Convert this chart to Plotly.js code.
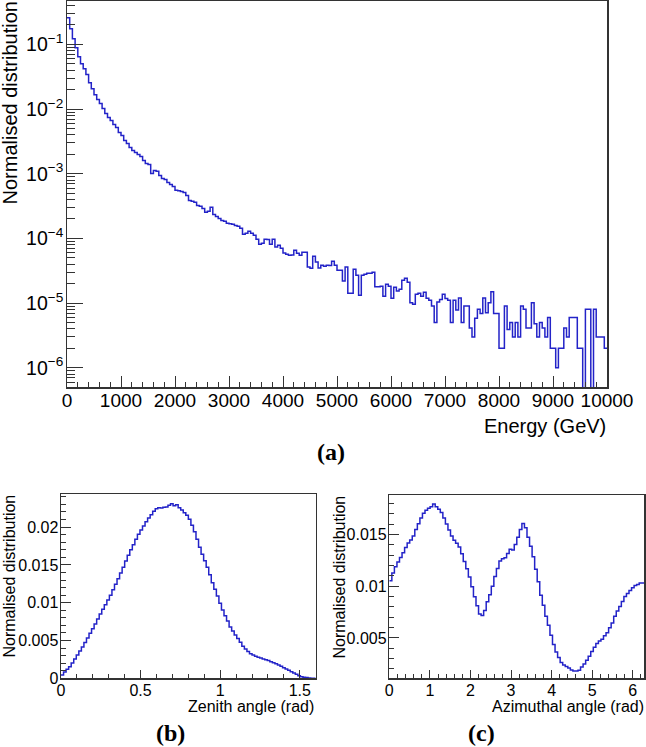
<!DOCTYPE html>
<html><head><meta charset="utf-8">
<script src="https://cdn.plot.ly/plotly-3.0.1.min.js"></script>
<style>html,body{margin:0;padding:0;background:#fff;} #chart{width:646px;height:747px;}</style>
</head><body><div id="chart"></div>
<script>
// ---- data ----
const energyRange = [0, 10000];            // GeV, 200 bins of 50 GeV
const energyValues = [
 0.258, 0.175, 0.1225, 0.0889, 0.0646, 0.0504, 0.0422, 0.0341, 0.0256, 0.0207,
 0.0167, 0.0140, 0.0122, 0.0102, 0.00852, 0.00739, 0.00665, 0.00577, 0.00518, 0.00434,
 0.00390, 0.00327, 0.00294, 0.00255, 0.00229, 0.00213, 0.00199, 0.00185, 0.00160, 0.00144,
 0.00139, 0.00101, 0.00112, 0.00109, 0.000941, 0.000846, 0.000817, 0.000734, 0.000684, 0.000637,
 0.000553, 0.000548, 0.000533, 0.000514, 0.000462, 0.000387, 0.000374, 0.000361, 0.000324, 0.000313,
 0.000291, 0.000253, 0.000262, 0.000302, 0.000235, 0.000219, 0.000204, 0.000190, 0.000184, 0.000171,
 0.000168, 0.000165, 0.000159, 0.000154, 0.000143, 0.000116, 0.000120, 0.000129, 0.000120, 0.000112,
 9.69e-5, 8.11e-5, 8.40e-5, 9.69e-5, 9.62e-5, 8.11e-5, 9.69e-5, 7.37e-5, 7.82e-5, 7.04e-5,
 5.95e-5, 5.68e-5, 5.48e-5, 5.52e-5, 6.55e-5, 5.89e-5, 5.48e-5, 6.10e-5, 6.10e-5, 3.62e-5,
 3.46e-5, 5.30e-5, 4.32e-5, 3.49e-5, 3.85e-5, 3.71e-5, 3.85e-5, 3.81e-5, 4.43e-5, 3.85e-5,
 3.22e-5, 3.22e-5, 2.20e-5, 3.62e-5, 1.42e-5, 1.42e-5, 3.34e-5, 2.70e-5, 1.32e-5, 2.70e-5,
 2.79e-5, 2.89e-5, 2.89e-5, 3.00e-5, 1.78e-5, 1.78e-5, 1.82e-5, 1.28e-5, 1.96e-5, 1.82e-5,
 1.19e-5, 1.76e-5, 1.53e-5, 1.64e-5, 2.26e-5, 2.42e-5, 2.10e-5, 1.01e-5, 9.6e-6, 1.37e-5,
 1.42e-5, 1.28e-5, 1.47e-5, 1.19e-5, 1.11e-5, 9.0e-6, 5.0e-6, 1.04e-5, 1.14e-5, 1.37e-5,
 1.18e-5, 1.11e-5, 5.0e-6, 1.11e-5, 7.8e-6, 1.20e-5, 5.0e-6, 9.0e-6, 9.0e-6, 4.1e-6,
 3.0e-6, 5.8e-6, 8.0e-6, 6.9e-6, 1.20e-5, 7.1e-6, 1.01e-5, 1.49e-5, 6.9e-6, 6.9e-6,
 2.0e-6, 2.0e-6, 9.0e-6, 3.9e-6, 5.0e-6, 3.0e-6, 5.0e-6, 3.0e-6, 9.0e-6, 8.0e-6,
 4.1e-6, 4.1e-6, 1.01e-5, 4.8e-6, 3.0e-6, 5.0e-6, 4.1e-6, 3.0e-6, 6.0e-6, 2.0e-6,
 2.0e-6, 1.0e-6, 2.0e-6, 2.0e-6, 4.1e-6, 3.0e-6, 6.0e-6, 6.0e-6, 6.0e-6, 2.0e-6,
 2.0e-6, 0, 8.0e-6, 8.0e-6, 0, 8.0e-6, 3.0e-6, 3.0e-6, 3.0e-6, 2.0e-6
];
const zenithRange = [0, 1.6];               // rad, 100 bins
const zenithValues = [
 0.00044, 0.00084, 0.00119, 0.00154, 0.00203, 0.00256, 0.00309, 0.00362, 0.00414, 0.00472,
 0.00533, 0.00595, 0.00657, 0.00719, 0.00785, 0.00851, 0.00913, 0.00974, 0.01036, 0.01098,
 0.01173, 0.01243, 0.01318, 0.01393, 0.01468, 0.01552, 0.01627, 0.01702, 0.01768, 0.01839,
 0.01905, 0.01962, 0.02015, 0.02072, 0.02121, 0.02165, 0.02209, 0.02244, 0.02257, 0.02253,
 0.02262, 0.02266, 0.02288, 0.02310, 0.02284, 0.02297, 0.02257, 0.02227, 0.02191, 0.02156,
 0.02103, 0.02024, 0.01940, 0.01839, 0.01733, 0.01640, 0.01556, 0.01468, 0.01371, 0.01265,
 0.01177, 0.01089, 0.00992, 0.00904, 0.00829, 0.00758, 0.00679, 0.00626, 0.00573, 0.00525,
 0.00476, 0.00423, 0.00388, 0.00353, 0.00326, 0.00309, 0.00291, 0.00278, 0.00269, 0.00256,
 0.00247, 0.00234, 0.00220, 0.00207, 0.00194, 0.00176, 0.00159, 0.00141, 0.00123, 0.00106,
 0.00088, 0.00071, 0.00053, 0.00035, 0.00022, 0.00013, 0.00009, 0.00004, 0, 0
];
const azimuthRange = [0, 2 * Math.PI];      // rad, 100 bins
const azimuthValues = [
 0.01052, 0.01126, 0.01187, 0.01232, 0.01277, 0.01322, 0.01374, 0.01416, 0.01445, 0.01484,
 0.01548, 0.01603, 0.01658, 0.01703, 0.01732, 0.01751, 0.01767, 0.01793, 0.01767, 0.01742,
 0.01712, 0.01658, 0.01600, 0.01542, 0.01484, 0.01442, 0.01413, 0.01377, 0.01313, 0.01239,
 0.01168, 0.01087, 0.00994, 0.00897, 0.00810, 0.00732, 0.00716, 0.00765, 0.00848, 0.00916,
 0.01000, 0.01093, 0.01171, 0.01242, 0.01264, 0.01274, 0.01316, 0.01355, 0.01348, 0.01403,
 0.01471, 0.01548, 0.01606, 0.01564, 0.01471, 0.01384, 0.01284, 0.01164, 0.01042, 0.00913,
 0.00816, 0.00710, 0.00623, 0.00526, 0.00436, 0.00365, 0.00310, 0.00262, 0.00239, 0.00223,
 0.00210, 0.00191, 0.00181, 0.00181, 0.00188, 0.00220, 0.00249, 0.00284, 0.00323, 0.00368,
 0.00410, 0.00445, 0.00471, 0.00487, 0.00520, 0.00549, 0.00597, 0.00645, 0.00710, 0.00761,
 0.00803, 0.00852, 0.00900, 0.00929, 0.00958, 0.00985, 0.01005, 0.01015, 0.01030, 0.01030
];
const yTitle = 'Normalised distribution';
const xTitles = ['Energy (GeV)', 'Zenith angle (rad)', 'Azimuthal angle (rad)'];
const panelLabels = ['(a)', '(b)', '(c)'];

// ---- drawing ----
const W = 646, H = 747;
const px = v => v / W, py = v => 1 - v / H;
const BLUE = '#2323c8', AX = '#333333';
const FONT = 'Liberation Sans, Arial, Helvetica, sans-serif';

function stepTrace(range, vals, xa, ya, floor) {
  const n = vals.length, w = (range[1] - range[0]) / n;
  const x = [], y = [];
  for (let i = 0; i < n; i++) {
    x.push(range[0] + i * w);
    y.push(floor !== undefined && vals[i] <= 0 ? floor : vals[i]);
  }
  x.push(range[1]); y.push(y[n - 1]);
  return {type: 'scatter', mode: 'lines', x: x, y: y, xaxis: xa, yaxis: ya,
          line: {shape: 'hv', color: BLUE, width: 1.5}, hoverinfo: 'skip'};
}

const traces = [
  stepTrace(energyRange, energyValues, 'x', 'y', 1e-10),
  stepTrace(zenithRange, zenithValues, 'x2', 'y2'),
  stepTrace(azimuthRange, azimuthValues, 'x3', 'y3')
];

function axis(extra) {
  return Object.assign({
    showline: true, linecolor: AX, linewidth: 1.5, mirror: true,
    showgrid: false, zeroline: false, ticks: 'inside', tickcolor: AX, tickwidth: 1,
    tickfont: {family: FONT, size: 16, color: '#000'}
  }, extra);
}

const layout = {
  width: W, height: H, margin: {l: 0, r: 0, t: 0, b: 0}, showlegend: false,
  paper_bgcolor: '#fff', plot_bgcolor: '#fff', font: {family: FONT, color: '#000'},
  xaxis: axis({domain: [px(67), px(607)], anchor: 'y', range: energyRange, tick0: 0, dtick: 1000,
    tickformat: 'd', ticklen: 11, ticklabelstandoff: -4, tickfont: {family: FONT, size: 19, color: '#000'},
    minor: {dtick: 200, ticks: 'inside', ticklen: 5, tickcolor: AX, showgrid: false}}),
  yaxis: axis({domain: [py(387), py(0.8)], anchor: 'x', type: 'log', range: [-6.298, -0.3256],
    dtick: 1, exponentformat: 'power', ticklen: 16, ticklabelstandoff: -1, tickfont: {family: FONT, size: 15.6, color: '#000'},
    minor: {dtick: 'D1', ticks: 'inside', ticklen: 8, tickcolor: AX, showgrid: false}}),
  xaxis2: axis({domain: [px(61), px(315.7)], anchor: 'y2', range: zenithRange, tick0: 0, dtick: 0.5,
    ticklen: 8, ticklabelstandoff: -3, minor: {dtick: 0.1, ticks: 'inside', ticklen: 4, tickcolor: AX, showgrid: false}}),
  yaxis2: axis({domain: [py(678.3), py(494.3)], anchor: 'x2', range: [0, 0.02434], tick0: 0, dtick: 0.005,
    ticklen: 10, ticklabelstandoff: -2, minor: {dtick: 0.001, ticks: 'inside', ticklen: 5, tickcolor: AX, showgrid: false}}),
  xaxis3: axis({domain: [px(389.3), px(644.3)], anchor: 'y3', range: azimuthRange, tick0: 0, dtick: 1,
    ticklen: 8, ticklabelstandoff: -3, minor: {dtick: 0.2, ticks: 'inside', ticklen: 4, tickcolor: AX, showgrid: false}}),
  yaxis3: axis({domain: [py(678.3), py(495)], anchor: 'x3', range: [0.0011, 0.0188], tick0: 0, dtick: 0.005,
    ticklen: 10, ticklabelstandoff: -2, minor: {dtick: 0.001, tick0: 0, ticks: 'inside', ticklen: 5, tickcolor: AX, showgrid: false}}),
  annotations: [
    {text: yTitle, textangle: -90, xref: 'paper', yref: 'paper', x: px(9), y: py(0), xanchor: 'center', yanchor: 'top', showarrow: false, font: {family: FONT, size: 20}},
    {text: xTitles[0], xref: 'paper', yref: 'paper', x: px(608), y: py(426), xanchor: 'right', yanchor: 'middle', showarrow: false, font: {family: FONT, size: 20}},
    {text: yTitle, textangle: -90, xref: 'paper', yref: 'paper', x: px(9), y: py(493), xanchor: 'center', yanchor: 'top', showarrow: false, font: {family: FONT, size: 16}},
    {text: xTitles[1], xref: 'paper', yref: 'paper', x: px(316), y: py(706), xanchor: 'right', yanchor: 'middle', showarrow: false, font: {family: FONT, size: 16}},
    {text: yTitle, textangle: -90, xref: 'paper', yref: 'paper', x: px(339), y: py(493), xanchor: 'center', yanchor: 'top', showarrow: false, font: {family: FONT, size: 16}},
    {text: xTitles[2], xref: 'paper', yref: 'paper', x: px(646), y: py(706), xanchor: 'right', yanchor: 'middle', showarrow: false, font: {family: FONT, size: 16}},
    {text: '<b>' + panelLabels[0] + '</b>', xref: 'paper', yref: 'paper', x: px(331), y: py(452), xanchor: 'center', yanchor: 'middle', showarrow: false, font: {family: 'Liberation Serif, Times New Roman, serif', size: 24}},
    {text: '<b>' + panelLabels[1] + '</b>', xref: 'paper', yref: 'paper', x: px(170), y: py(733), xanchor: 'center', yanchor: 'middle', showarrow: false, font: {family: 'Liberation Serif, Times New Roman, serif', size: 24}},
    {text: '<b>' + panelLabels[2] + '</b>', xref: 'paper', yref: 'paper', x: px(482), y: py(733), xanchor: 'center', yanchor: 'middle', showarrow: false, font: {family: 'Liberation Serif, Times New Roman, serif', size: 24}}
  ]
};

Plotly.newPlot('chart', traces, layout, {staticPlot: true, displayModeBar: false});
</script>
</body></html>
